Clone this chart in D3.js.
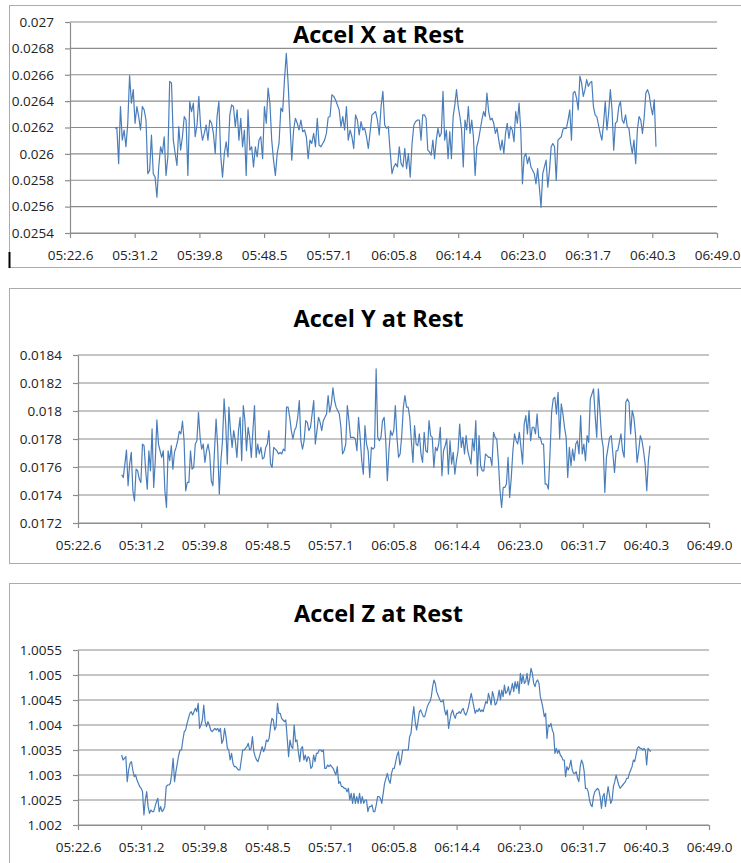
<!DOCTYPE html>
<meta charset="utf-8">
<style>
	body { margin: 0; background: #fff; }
	svg { display: block; }
	.tick text { font-family: "Open Sans", sans-serif; font-size: 13.5px; fill: #222; }
	.title { font-family: "Open Sans", sans-serif; font-weight: 700; font-size: 23.5px; fill: #000; }
</style>

<div class="charts"></div>

<script src="https://d3js.org/d3.v7.min.js"></script>

<script>
	// x axis ticks, seconds since the hour (Excel steps of 0.0001 day)
	var xTicks = [322.56, 331.20, 339.84, 348.48, 357.12, 365.76, 374.40, 383.04, 391.68, 400.32, 408.96];

	var yTicksX = [0.0254, 0.0256, 0.0258, 0.026, 0.0262, 0.0264, 0.0266, 0.0268, 0.027];
	var yTicksY = [0.0172, 0.0174, 0.0176, 0.0178, 0.018, 0.0182, 0.0184];
	var yTicksZ = [1.002, 1.0025, 1.003, 1.0035, 1.004, 1.0045, 1.005, 1.0055];

	// sample index -> time (s) at a few points
	var timeAnchorsX = [[0, 328.57], [167, 369.21], [307, 400.81]];
	var timeAnchorsY = [[0, 328.54], [186, 369.30], [329, 400.88]];
	var timeAnchorsZ = [[0, 328.54], [214, 369.30], [388, 400.97]];

	var accelX = [
		0.026194,0.026201,0.025926,0.026359,0.026104,0.026181,0.026054,0.026232,0.026594,0.026385,
		0.026487,0.026232,0.026359,0.026283,0.026181,0.026359,0.026334,0.026257,0.025850,0.025875,
		0.026143,0.025850,0.025824,0.025671,0.025901,0.026054,0.026003,0.026130,0.025837,0.025977,
		0.026550,0.026538,0.026104,0.026003,0.025913,0.026206,0.026028,0.026130,0.026283,0.026257,
		0.025837,0.026397,0.026321,0.026385,0.026130,0.026219,0.026436,0.026206,0.026104,0.026155,
		0.026219,0.026104,0.026257,0.026232,0.026155,0.026003,0.026283,0.026397,0.025990,0.025824,
		0.026003,0.026092,0.025977,0.026296,0.026372,0.026359,0.026206,0.026334,0.026104,0.026270,
		0.026054,0.026181,0.025837,0.026334,0.026028,0.026054,0.025901,0.026054,0.025977,0.026104,
		0.026130,0.025964,0.026359,0.026232,0.026499,0.026385,0.026104,0.025952,0.025837,0.026003,
		0.026079,0.026347,0.026321,0.026563,0.026762,0.026538,0.026232,0.025952,0.026181,0.026270,
		0.026232,0.026181,0.026257,0.026168,0.026181,0.026130,0.025964,0.026104,0.026079,0.026155,
		0.026054,0.026270,0.026066,0.026054,0.026079,0.026104,0.026155,0.026278,0.026283,0.026448,
		0.026436,0.026410,0.026372,0.026334,0.026206,0.026283,0.026181,0.026359,0.026104,0.026181,
		0.026130,0.026041,0.026296,0.026257,0.026143,0.026245,0.026181,0.026194,0.026130,0.026041,
		0.026168,0.026296,0.026308,0.026321,0.026257,0.026143,0.026359,0.026474,0.026219,0.026194,
		0.026206,0.026015,0.025850,0.025901,0.025926,0.025901,0.026054,0.025926,0.025901,0.026041,
		0.025888,0.026003,0.025824,0.026079,0.026219,0.026245,0.026257,0.026257,
		0.026104,0.026296,0.026296,0.026270,0.026028,0.026015,0.025990,0.026104,0.025964,0.026104,
		0.026194,0.026130,0.026155,0.026474,0.026104,0.026181,0.025964,0.026168,0.025964,0.026283,
		0.026372,0.026487,0.026359,0.026283,0.026181,0.025901,0.026257,0.026181,0.026359,0.026155,
		0.026257,0.026130,0.025837,0.026054,0.026104,0.026181,0.026257,0.026321,0.026283,0.026461,
		0.026321,0.026257,0.026270,0.026232,0.026155,0.026194,0.026104,0.026028,0.026104,0.026003,
		0.026155,0.026232,0.026117,0.026206,0.026181,0.026092,0.026321,0.026232,0.026385,0.026181,
		0.025773,0.025977,0.026003,0.025926,0.025977,0.025901,0.025875,0.025850,0.025773,0.025888,
		0.025748,0.025595,0.025850,0.025901,0.025952,0.025748,0.025875,0.026054,0.026079,0.026054,
		0.025799,0.026104,0.026117,0.026130,0.026186,0.026194,0.026194,0.026257,0.026334,0.026104,
		0.026461,0.026474,0.026423,0.026334,0.026589,0.026538,0.026436,0.026487,0.026563,0.026512,
		0.026538,0.026550,0.026359,0.026296,0.026283,0.026219,0.026155,0.026104,0.026232,0.026397,
		0.026181,0.026308,0.026487,0.026334,0.026028,0.026232,0.026245,0.026359,0.026397,0.026257,
		0.026232,0.026296,0.026206,0.026194,0.026079,0.026003,0.026104,0.025926,0.026181,0.026283,
		0.026257,0.026155,0.026270,0.026461,0.026487,0.026448,0.026359,0.026296,0.026410,0.026054
	];

	var accelY = [
		0.017545,0.017525,0.017621,0.017721,0.017466,0.017621,0.017705,0.017430,0.017358,0.017585,
		0.017573,0.017514,0.017490,0.017764,0.017752,0.017573,0.017442,0.017716,0.017573,0.017872,
		0.017454,0.017645,0.017936,0.017764,0.017716,0.017669,0.017716,0.017430,0.017311,0.017716,
		0.017645,0.017752,0.017585,0.017705,0.017740,0.017788,0.017855,0.017836,0.017927,0.017788,
		0.017430,0.017490,0.017490,0.017716,0.017585,0.017597,0.017764,0.017788,0.017991,0.017812,
		0.017728,0.017764,0.017633,0.017716,0.017764,0.017693,0.017502,0.017466,0.017716,0.017943,
		0.017740,0.017406,0.017645,0.017788,0.018086,0.017907,0.017621,0.018027,0.017860,0.017740,
		0.017860,0.017788,0.017669,0.017860,0.017955,0.017645,0.018039,0.017931,0.017716,0.017884,
		0.017812,0.017669,0.017860,0.018039,0.017669,0.017764,0.017693,0.017740,0.017657,0.017669,
		0.017740,0.017764,0.017860,0.017621,0.017597,0.017740,0.017728,0.017716,0.017693,0.017705,
		0.017693,0.017728,0.017716,0.018027,0.018027,0.017955,0.017860,0.017800,0.017860,0.017884,
		0.017955,0.018075,0.017788,0.017728,0.017788,0.017931,0.017919,0.017860,0.017884,0.017979,
		0.018075,0.017764,0.017860,0.017955,0.017919,0.017860,0.017931,0.017955,0.017979,0.018110,
		0.017991,0.018051,0.018165,0.018075,0.018027,0.018003,0.017979,0.017884,0.017693,0.017716,
		0.017764,0.018039,0.017931,0.017812,0.017812,0.017812,0.017800,0.017716,0.017955,0.017812,
		0.017645,0.017549,0.017895,0.017764,0.017716,0.017525,0.017740,0.017728,0.017740,0.018301,
		0.017812,0.017788,0.017812,0.017931,0.017955,0.017788,0.017502,0.017716,0.017860,0.017824,
		0.017860,0.018039,0.017812,0.017669,0.017693,0.017824,0.018027,0.018110,0.018027,0.018027,
		0.017955,0.017788,0.017633,0.017895,0.017764,0.017752,0.017836,
		0.017693,0.017633,0.017848,0.017716,0.017705,0.017931,0.017824,0.017812,0.017597,0.017740,
		0.017716,0.017764,0.017884,0.017537,0.017716,0.017752,0.017800,0.017549,0.017788,0.017621,
		0.017705,0.017549,0.017645,0.017716,0.017907,0.017740,0.017812,0.017693,0.017824,0.017716,
		0.017669,0.017621,0.017800,0.017716,0.017931,0.017537,0.017824,0.017609,0.017573,0.017573,
		0.017693,0.017681,0.017669,0.017669,0.017609,0.017848,0.017812,0.017800,0.017645,0.017430,
		0.017311,0.017454,0.017454,0.017478,0.017669,0.017382,0.017525,0.017716,0.017836,0.017788,
		0.017764,0.017848,0.017740,0.017621,0.017907,0.017967,0.017836,0.018003,0.017788,0.017884,
		0.017884,0.017836,0.017979,0.017812,0.017812,0.017764,0.017764,0.017478,0.017478,0.017442,
		0.017693,0.017991,0.018086,0.018098,0.017979,0.018134,0.017800,0.018051,0.017979,0.017884,
		0.017812,0.017525,0.017740,0.017609,0.017728,0.017645,0.017764,0.017788,0.017693,0.017967,
		0.017693,0.017764,0.017645,0.017824,0.017776,0.018086,0.018122,0.018158,0.017967,0.017812,
		0.018158,0.017991,0.017812,0.017740,0.017418,0.017669,0.017740,0.017812,0.017824,0.017693,
		0.017561,0.017716,0.017716,0.017776,0.017836,0.017716,0.017669,0.018063,0.018086,0.018063,
		0.017836,0.018003,0.017955,0.017836,0.017633,0.017716,0.017824,0.017788,0.017716,0.017621,
		0.017430,0.017645,0.017752
	];

	var accelZ = [
		1.003400,1.003300,1.003333,1.003367,1.002867,1.003100,1.003233,1.003267,1.003100,1.002967,
		1.003000,1.002900,1.002833,1.002767,1.002733,1.002667,1.002200,1.002500,1.002667,1.002367,
		1.002233,1.002300,1.002267,1.002267,1.002367,1.002467,1.002533,1.002267,1.002367,1.002267,
		1.002300,1.002367,1.002767,1.002800,1.002800,1.002833,1.003033,1.003333,1.002867,1.003067,
		1.003233,1.003400,1.003500,1.003500,1.003700,1.003867,1.003900,1.004033,1.004133,1.004233,
		1.004267,1.004200,1.004267,1.004333,1.004267,1.004433,1.003933,1.004000,1.004100,1.004400,
		1.004067,1.003967,1.004067,1.004000,1.003900,1.003867,1.003900,1.003933,1.003900,1.003933,
		1.003867,1.003933,1.003633,1.003700,1.003933,1.003767,1.003533,1.003500,1.003300,1.003433,
		1.003233,1.003167,1.003167,1.003133,1.003100,1.003100,1.003300,1.003500,1.003500,1.003533,
		1.003567,1.003633,1.003500,1.003533,1.003767,1.003467,1.003367,1.003300,1.003267,1.003367,
		1.003467,1.003567,1.003467,1.003533,1.003700,1.003667,1.003733,1.003967,1.004133,1.004100,
		1.003900,1.003967,1.004433,1.004233,1.004233,1.004133,1.004100,1.004067,1.004100,1.003733,
		1.003367,1.003700,1.003567,1.003533,1.004000,1.003667,1.003700,1.003467,1.003267,1.003533,
		1.003567,1.003300,1.003400,1.003267,1.003367,1.003333,1.003133,1.003167,1.003400,1.003267,
		1.003433,1.003433,1.003500,1.003500,1.003467,1.003500,1.003133,1.003133,1.003200,1.003167,
		1.003200,1.003167,1.003133,1.003067,1.003000,1.003167,1.002833,1.002867,1.002767,1.002767,
		1.002733,1.002733,1.002667,1.002733,1.002500,1.002633,1.002433,1.002633,1.002433,1.002567,
		1.002433,1.002633,1.002433,1.002567,1.002433,1.002500,1.002500,1.002267,1.002367,1.002367,
		1.002400,1.002267,1.002267,1.002400,1.002567,1.002567,1.002533,1.002433,1.002633,1.002833,
		1.002933,1.003033,1.002900,1.002833,1.003033,1.003133,1.003133,1.003267,1.003400,1.003467,
		1.003200,1.003300,1.003500,1.003500,1.003500,1.003500,1.003500,1.003767,1.003833,1.004133,
		1.004367,1.004067,1.003900,1.004067,1.004267,
		1.004300,1.004233,1.004167,1.004167,1.004267,1.004367,1.004433,1.004467,1.004567,1.004767,
		1.004900,1.004833,1.004667,1.004600,1.004533,1.004467,1.004467,1.004500,1.004300,1.004200,
		1.004300,1.003933,1.004100,1.004233,1.004300,1.004200,1.004133,1.004233,1.004233,1.004267,
		1.004233,1.004300,1.004333,1.004233,1.004200,1.004267,1.004367,1.004500,1.004633,1.004500,
		1.004367,1.004233,1.004300,1.004267,1.004333,1.004267,1.004300,1.004267,1.004367,1.004467,
		1.004433,1.004633,1.004533,1.004400,1.004667,1.004567,1.004400,1.004433,1.004533,1.004700,
		1.004500,1.004700,1.004567,1.004800,1.004633,1.004667,1.004767,1.004600,1.004700,1.004833,
		1.004667,1.004867,1.004733,1.004867,1.004633,1.005033,1.004833,1.005000,1.004833,1.004867,
		1.005033,1.004800,1.004933,1.005133,1.005033,1.004833,1.004767,1.004867,1.004900,1.004833,
		1.004567,1.004467,1.004333,1.004167,1.004233,1.003733,1.004000,1.003967,1.004033,1.003900,
		1.003833,1.003433,1.003533,1.003433,1.003500,1.003400,1.003367,1.003300,1.003300,1.002967,
		1.003167,1.003100,1.003167,1.003300,1.003100,1.003033,1.003033,1.003067,1.002933,1.002867,
		1.003167,1.003300,1.003233,1.003067,1.002733,1.002733,1.002667,1.002500,1.002400,1.002367,
		1.002567,1.002667,1.002700,1.002733,1.002700,1.002567,1.002333,1.002567,1.002633,1.002367,
		1.002567,1.002767,1.002600,1.002433,1.002500,1.002767,1.002867,1.003000,1.002900,1.002800,
		1.002733,1.002767,1.002800,1.002833,1.002867,1.002933,1.002933,1.003033,1.003100,1.003167,
		1.003300,1.003267,1.003400,1.003533,1.003567,1.003533,1.003533,1.003500,1.003533,1.003500,
		1.003200,1.003533,1.003500,1.003467
	];

	var panels = [
		{title: "Accel X at Rest", values: accelX, anchors: timeAnchorsX, yTicks: yTicksX,
			frameTop: 5.5, frameBottom: 267.5, left: 70, right: 717, top: 22, bottom: 233, titleY: 43},
		{title: "Accel Y at Rest", values: accelY, anchors: timeAnchorsY, yTicks: yTicksY,
			frameTop: 288.5, frameBottom: 563.5, left: 78, right: 709, top: 355, bottom: 523, titleY: 327},
		{title: "Accel Z at Rest", values: accelZ, anchors: timeAnchorsZ, yTicks: yTicksZ,
			frameTop: 583.5, frameBottom: 900, left: 78, right: 709, top: 650, bottom: 825, titleY: 622}
	];

	var fmt2 = d3.format("02"), fmtSec = d3.format("04.1f");
	function fmtTime(t) {
		var m = Math.floor(t / 60);
		return fmt2(m) + ":" + fmtSec(t - m * 60);
	}
	function fmtY(v) { return String(+v.toFixed(5)); }

	var svg = d3.select('.charts')
			.append("svg")
			.attr("width", 741)
			.attr("height", 863);

	svg.append("rect").attr("width", 741).attr("height", 863).attr("fill", "#fff");

	panels.forEach(function (p) {
		var g = svg.append("g");

		g.append("rect")
				.attr("x", 9.5).attr("y", p.frameTop)
				.attr("width", 800).attr("height", p.frameBottom - p.frameTop)
				.attr("fill", "#fff")
				.attr("stroke", "#ababab");

		var x = d3.scaleLinear()
				.domain([xTicks[0], xTicks[xTicks.length - 1]])
				.range([p.left, p.right]);

		var y = d3.scaleLinear()
				.domain([p.yTicks[0], p.yTicks[p.yTicks.length - 1]])
				.range([p.bottom, p.top]);

		var time = d3.scaleLinear()
				.domain(p.anchors.map(function (a) { return a[0]; }))
				.range(p.anchors.map(function (a) { return a[1]; }));

		// gridlines
		g.append("g").selectAll("line")
				.data(p.yTicks)
				.enter().append("line")
				.attr("x1", p.left).attr("x2", p.right)
				.attr("y1", function (d) { return y(d); })
				.attr("y2", function (d) { return y(d); })
				.attr("stroke", "#8c8c8c")
				.attr("stroke-width", 1.2);

		var yAxis = g.append("g")
				.attr("transform", "translate(" + p.left + ",0)")
				.call(d3.axisLeft(y).tickValues(p.yTicks).tickFormat(fmtY)
						.tickSizeInner(5).tickSizeOuter(0).tickPadding(11));

		var xAxis = g.append("g")
				.attr("transform", "translate(0," + p.bottom + ")")
				.call(d3.axisBottom(x).tickValues(xTicks).tickFormat(fmtTime)
						.tickSizeInner(5).tickSizeOuter(0).tickPadding(12));

		g.selectAll(".domain, .tick line")
				.attr("stroke", "#8c8c8c")
				.attr("stroke-width", 1.2);
		g.selectAll(".tick text").attr("font-family", null).attr("font-size", null);

		g.append("path")
				.datum(p.values)
				.attr("fill", "none")
				.attr("stroke", "#4a7ebb")
				.attr("stroke-width", 1.2)
				.attr("stroke-linejoin", "round")
				.attr("d", d3.line()
						.x(function (d, i) { return x(time(i)); })
						.y(function (d) { return y(d); }));

		g.append("text")
				.attr("class", "title")
				.attr("x", 378.5)
				.attr("y", p.titleY)
				.attr("text-anchor", "middle")
				.text(p.title);
	});

	// stray cursor mark at the bottom left of the first chart
	svg.append("line")
			.attr("x1", 9.5).attr("x2", 9.5)
			.attr("y1", 252).attr("y2", 268)
			.attr("stroke", "#000")
			.attr("stroke-width", 2);
</script>
